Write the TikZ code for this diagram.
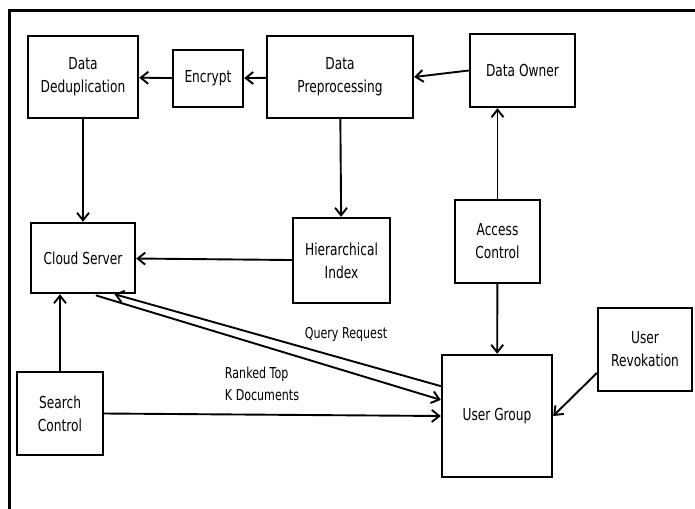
\documentclass[tikz,border=0pt]{standalone}
\usepackage{fontspec}
\setmainfont{DejaVu Sans}[FakeStretch=0.74]
\usetikzlibrary{arrows.meta}
\tikzset{
  blok/.style={draw,line width=2.4pt,align=center,inner sep=0pt,font=\fontsize{16.5}{23}\selectfont},
  freccia/.style={line width=1.9pt,-{Straight Barb[length=7.5pt,width=12pt,line width=1.9pt]}},
  etichetta/.style={align=left,inner sep=0pt,font=\fontsize{15}{22}\selectfont}
}
\begin{document}
\begin{tikzpicture}[x=1pt,y=-1pt]
        \clip (0,0) rectangle (695,508);
        %cornice
        \draw[line width=3pt] (9,11) rectangle (710,520);
        %riga alta
        \node[blok,minimum width=110pt,minimum height=82pt] (dedup) at (83,77) {Data\\Deduplication};
        \node[blok,minimum width=70pt,minimum height=57pt] (encrypt) at (208,78.5) {Encrypt};
        \node[blok,minimum width=146pt,minimum height=82pt] (preproc) at (340,77) {Data\\Preprocessing};
        \node[blok,minimum width=105pt,minimum height=73pt] (owner) at (522.5,70.5) {Data Owner};
        %riga centrale
        \node[blok,minimum width=104pt,minimum height=70pt] (cloud) at (83,258) {Cloud Server};
        \node[blok,minimum width=97pt,minimum height=85pt] (hier) at (341.5,260.5) {Hierarchical\\Index};
        \node[blok,minimum width=85pt,minimum height=83pt] (access) at (497.5,241.5) {Access\\Control};
        %riga bassa
        \node[blok,minimum width=86pt,minimum height=83pt] (search) at (60,413.5) {Search\\Control};
        \node[blok,minimum width=110pt,minimum height=122pt] (group) at (497,416) {User Group};
        \node[blok,minimum width=94pt,minimum height=83pt] (revoke) at (645,349.5) {User\\Revokation};
        % etichette
        \node[etichetta] (qlabel) at (346,334) {Query Request};
        \node[etichetta] (rlabel) at (262,384) {Ranked Top\\K Documents};
        % frecce
        \draw[freccia] (encrypt) -- (dedup);
        \draw[freccia] (preproc) -- (encrypt);
        \draw[freccia] (owner.west) -- (preproc.east);
        \draw[freccia] (dedup) -- (cloud);
        \draw[freccia] (preproc) -- (hier);
        \draw[freccia] (hier) -- (cloud);
        \draw[freccia] (access.north) -- (access.north |- owner.south);
        \draw[freccia] (access) -- (group);
        \draw[freccia] (search.north) -- (search.north |- cloud.south);
        \draw[freccia] (search.east) -- (group.west);
        \draw[freccia] (revoke.206) -- (group.east);
        \draw[freccia] (group.152) -- (cloud.311);
        \draw[freccia,shorten <=4pt] (cloud.284) -- (group.164);
    \end{tikzpicture}
\end{document}
